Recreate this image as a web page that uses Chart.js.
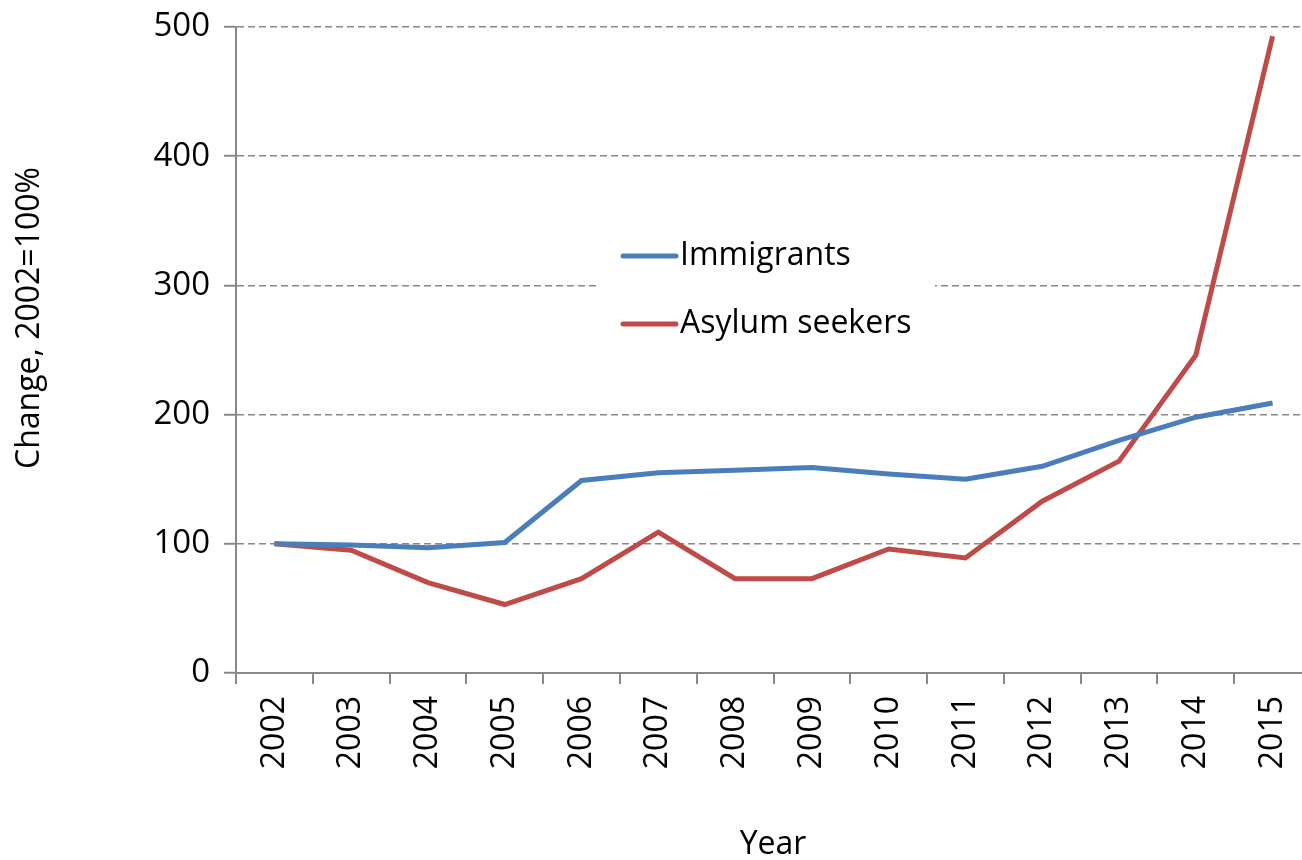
<!DOCTYPE html>
<html>
<head>
<meta charset="utf-8">
<script src="https://cdn.jsdelivr.net/npm/chart.js@4"></script>
<style>
  html, body { margin: 0; padding: 0; background: #fff; overflow: hidden; }
  #wrap { width: 1320px; height: 860px; }
</style>
</head>
<body>
<div id="wrap"><canvas id="chart" width="1320" height="860"></canvas></div>
<script>
// data
var years = ["2002", "2003", "2004", "2005", "2006", "2007", "2008", "2009", "2010", "2011", "2012", "2013", "2014", "2015"];
var immigrants = [100, 99, 97, 101, 149, 155, 157, 159, 154, 150, 160, 180, 198, 209];
var asylumSeekers = [100, 95, 70, 53, 73, 109, 73, 73, 96, 89, 133, 164, 246, 493];
var yTicks = [0, 100, 200, 300, 400, 500];
var xTitle = "Year";
var yTitle = "Change, 2002=100%";

var FONT = "Open Sans";
var GRID = "#888888";

// legend sits inside the plot, with a white box behind it; axis titles drawn here too
var extras = {
    id: "extras",
    afterDraw: function (chart, args, opts) {
        var ctx = chart.ctx;
        ctx.save();
        ctx.fillStyle = "#fff";
        ctx.fillRect(opts.boxX, opts.boxY, opts.boxW, opts.boxH);
        ctx.font = opts.fontSize + "px '" + FONT + "'";
        ctx.textBaseline = "middle";
        chart.data.datasets.forEach(function (ds, i) {
            var y = opts.y + i * opts.step;
            ctx.strokeStyle = ds.borderColor;
            ctx.lineWidth = 5;
            ctx.lineCap = "round";
            ctx.beginPath();
            ctx.moveTo(opts.x, y);
            ctx.lineTo(opts.x + opts.lineLen, y);
            ctx.stroke();
            ctx.fillStyle = "#000";
            ctx.fillText(ds.label, opts.x + opts.lineLen + 4, y);
        });

        ctx.fillStyle = "#000";
        ctx.textAlign = "center";
        ctx.font = opts.titleSize + "px '" + FONT + "'";
        ctx.fillText(xTitle, opts.xTitleX, opts.xTitleY);
        ctx.translate(opts.yTitleX, opts.yTitleY);
        ctx.rotate(-Math.PI / 2);
        ctx.fillText(yTitle, 0, 0);
        ctx.restore();
    }
};

new Chart(document.getElementById("chart").getContext("2d"), {
    type: "line",
    data: {
        labels: years,
        datasets: [{
            label: "Immigrants",
            data: immigrants,
            borderColor: "#4a7ebb",
            borderWidth: 5,
            pointRadius: 0,
            tension: 0
        }, {
            label: "Asylum seekers",
            data: asylumSeekers,
            borderColor: "#be4b48",
            borderWidth: 5,
            pointRadius: 0,
            tension: 0
        }]
    },
    options: {
        responsive: false,
        animation: false,
        layout: { padding: { top: 27, right: 9, bottom: 0, left: 0 } },
        plugins: {
            legend: { display: false },
            tooltip: { enabled: false },
            extras: {
                boxX: 600, boxY: 228, boxW: 335, boxH: 130, x: 623, y: 256, step: 68, lineLen: 53, fontSize: 32,
                titleSize: 32, xTitleX: 773, xTitleY: 845, yTitleX: 30, yTitleY: 318
            }
        },
        scales: {
            x: {
                offset: true,
                grid: { offset: true, drawOnChartArea: false, color: GRID, tickLength: 11, lineWidth: 2 },
                border: { color: GRID, width: 2 },
                ticks: { color: "#000", font: { family: FONT, size: 32 }, minRotation: 90, maxRotation: 90, padding: 12, autoSkip: false },
                afterFit: function (scale) { scale.height = 187; scale.paddingLeft = 0; scale.paddingRight = 0; }
            },
            y: {
                min: 0,
                max: 500,
                afterBuildTicks: function (scale) { scale.ticks = yTicks.map(function (v) { return { value: v }; }); },
                grid: { color: GRID, tickLength: 12, lineWidth: 1.5, tickWidth: 2 },
                border: { color: GRID, width: 2, dash: [7, 4] },
                ticks: { color: "#000", font: { family: FONT, size: 33 }, padding: 14 },
                afterFit: function (scale) { scale.width = 236; scale.paddingTop = 0; scale.paddingBottom = 0; }
            }
        }
    },
    plugins: [extras]
});
</script>
</body>
</html>
